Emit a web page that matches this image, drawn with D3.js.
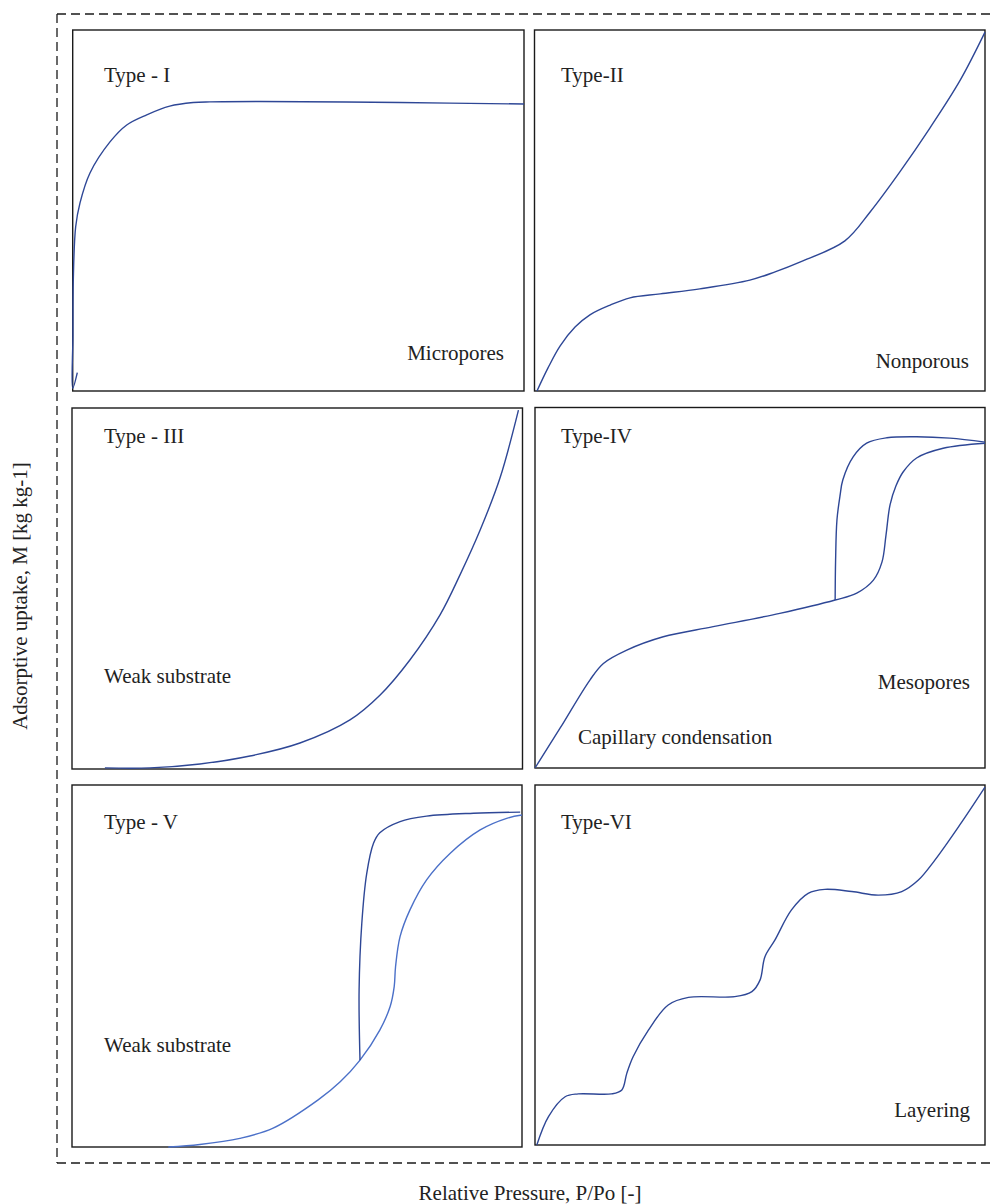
<!DOCTYPE html>
<html>
<head>
<meta charset="utf-8">
<script src="https://cdn.jsdelivr.net/npm/d3@7"></script>
<style>
  html, body { margin: 0; padding: 0; background: #fff; }
  svg { display: block; }
  text { font-family: "Liberation Serif", "DejaVu Serif", serif; fill: #222; }
</style>
</head>
<body>
<svg id="chart" width="992" height="1204"></svg>
<script>
// ---------- DATA (relative pressure x, uptake y; both normalised 0..1) ----------
const panelTitles = ["Type - I", "Type-II", "Type - III", "Type-IV", "Type - V", "Type-VI"];
const panelNotes = ["Micropores", "Nonporous", "Weak substrate", "Mesopores", "Weak substrate", "Layering"];
const extraNote = "Capillary condensation";
const xAxisLabel = "Relative Pressure, P/Po [-]";
const yAxisLabel = "Adsorptive uptake, M [kg kg-1]";

const typeI = [[0.0102,0.0507],[0,0.0075],[0.0005,0.15],[0.0013,0.307],[0.0066,0.455],[0.0162,0.521],[0.0383,0.604],[0.0826,0.690],[0.1197,0.737],[0.164,0.765],[0.215,0.789],[0.267,0.799],[0.304,0.801],[0.415,0.802],[0.725,0.799],[1.0,0.795]];
const typeII = [[0.0055,0],[0.030,0.064],[0.057,0.125],[0.090,0.177],[0.123,0.211],[0.168,0.238],[0.212,0.258],[0.279,0.269],[0.367,0.283],[0.478,0.307],[0.534,0.330],[0.589,0.357],[0.689,0.416],[0.745,0.496],[0.811,0.607],[0.878,0.729],[0.945,0.861],[1.0,0.994]];
const typeIII = [[0.073,0.003],[0.173,0.003],[0.284,0.014],[0.395,0.036],[0.506,0.072],[0.617,0.136],[0.684,0.205],[0.750,0.302],[0.817,0.427],[0.861,0.537],[0.906,0.662],[0.950,0.806],[0.991,0.994]];
const typeIVads = [[0,0],[0.056,0.111],[0.122,0.244],[0.152,0.290],[0.204,0.327],[0.285,0.364],[0.396,0.392],[0.544,0.429],[0.667,0.466],[0.715,0.485],[0.752,0.521],[0.771,0.571],[0.780,0.646],[0.789,0.730],[0.802,0.782],[0.818,0.821],[0.848,0.860],[0.907,0.887],[1.0,0.901]];
const typeIVdes = [[0.667,0.466],[0.668,0.577],[0.671,0.688],[0.678,0.757],[0.684,0.799],[0.707,0.863],[0.737,0.901],[0.782,0.916],[0.848,0.919],[0.922,0.915],[1.0,0.904]];
const typeVads = [[0.214,0],[0.284,0.007],[0.373,0.024],[0.447,0.052],[0.547,0.130],[0.596,0.180],[0.640,0.240],[0.684,0.323],[0.707,0.388],[0.716,0.443],[0.719,0.498],[0.729,0.581],[0.751,0.655],[0.788,0.738],[0.840,0.811],[0.907,0.876],[0.966,0.908],[1.0,0.917]];
const typeVdes = [[0.640,0.240],[0.638,0.434],[0.644,0.618],[0.655,0.756],[0.670,0.839],[0.684,0.868],[0.729,0.899],[0.788,0.914],[0.892,0.922],[0.996,0.925]];
const typeVI = [[0.004,0],[0.030,0.079],[0.067,0.134],[0.096,0.142],[0.170,0.142],[0.193,0.153],[0.204,0.199],[0.218,0.245],[0.252,0.319],[0.296,0.389],[0.341,0.410],[0.444,0.412],[0.482,0.426],[0.500,0.458],[0.511,0.523],[0.533,0.569],[0.570,0.653],[0.607,0.699],[0.644,0.710],[0.704,0.704],[0.763,0.694],[0.815,0.704],[0.852,0.736],[0.889,0.792],[0.944,0.889],[1.0,0.994]];

// ---------- LAYOUT ----------
const svg = d3.select("#chart");
const dark = "#2e4796", light = "#4b70c8";

const boxes = [
  {x0: 72.7, x1: 524, y0: 30, y1: 391},
  {x0: 534.5, x1: 985, y0: 30, y1: 391},
  {x0: 72, x1: 522.5, y0: 408, y1: 769},
  {x0: 535, x1: 985, y0: 407.5, y1: 768},
  {x0: 72, x1: 522, y0: 785, y1: 1147},
  {x0: 535, x1: 985, y0: 785, y1: 1145}
];

const curves = [
  [{d: typeI, c: dark}],
  [{d: typeII, c: dark}],
  [{d: typeIII, c: dark}],
  [{d: typeIVads, c: dark}, {d: typeIVdes, c: dark}],
  [{d: typeVads, c: light}, {d: typeVdes, c: dark}],
  [{d: typeVI, c: dark}]
];

const notePos = [
  {anchor: "end", x: 504, y: 360},
  {anchor: "end", x: 969, y: 368},
  {anchor: "start", x: 104, y: 683},
  {anchor: "end", x: 970, y: 689},
  {anchor: "start", x: 104, y: 1052},
  {anchor: "end", x: 970, y: 1117}
];
const titlePos = [
  {x: 104, y: 82}, {x: 561, y: 82},
  {x: 104, y: 443}, {x: 561, y: 443},
  {x: 104, y: 829}, {x: 561, y: 829}
];

// outer dashed frame (no right edge, runs off the page)
const dash = "9,5";
const fr = svg.append("g").attr("stroke", "#1a1a1a").attr("stroke-width", 1.3).attr("stroke-dasharray", dash).attr("fill", "none");
fr.append("line").attr("x1", 57).attr("y1", 14).attr("x2", 992).attr("y2", 14);
fr.append("line").attr("x1", 57).attr("y1", 1163).attr("x2", 992).attr("y2", 1163);
fr.append("line").attr("x1", 57).attr("y1", 14).attr("x2", 57).attr("y2", 1163);

boxes.forEach((b, i) => {
  const x = d3.scaleLinear().domain([0, 1]).range([b.x0, b.x1]);
  const y = d3.scaleLinear().domain([0, 1]).range([b.y1, b.y0]);
  const g = svg.append("g");
  g.append("rect")
    .attr("x", b.x0).attr("y", b.y0)
    .attr("width", b.x1 - b.x0).attr("height", b.y1 - b.y0)
    .attr("fill", "none").attr("stroke", "#1a1a1a").attr("stroke-width", 1.4);
  const line = d3.line().x(d => x(d[0])).y(d => y(d[1])).curve(d3.curveCatmullRom.alpha(0.5));
  curves[i].forEach(cv => {
    g.append("path").datum(cv.d).attr("d", line)
      .attr("fill", "none").attr("stroke", cv.c).attr("stroke-width", 1.4);
  });
  g.append("text").attr("x", titlePos[i].x).attr("y", titlePos[i].y)
    .attr("font-size", 21).text(panelTitles[i]);
  g.append("text").attr("x", notePos[i].x).attr("y", notePos[i].y)
    .attr("text-anchor", notePos[i].anchor)
    .attr("font-size", 21).text(panelNotes[i]);
  if (i === 3) {
    g.append("text").attr("x", 578).attr("y", 744).attr("font-size", 21).text(extraNote);
  }
});

// axis titles
svg.append("text").attr("x", 530).attr("y", 1200).attr("text-anchor", "middle")
  .attr("font-size", 21).text(xAxisLabel);
svg.append("text").attr("transform", "translate(27,596) rotate(-90)")
  .attr("text-anchor", "middle").attr("font-size", 21).text(yAxisLabel);
</script>
</body>
</html>
